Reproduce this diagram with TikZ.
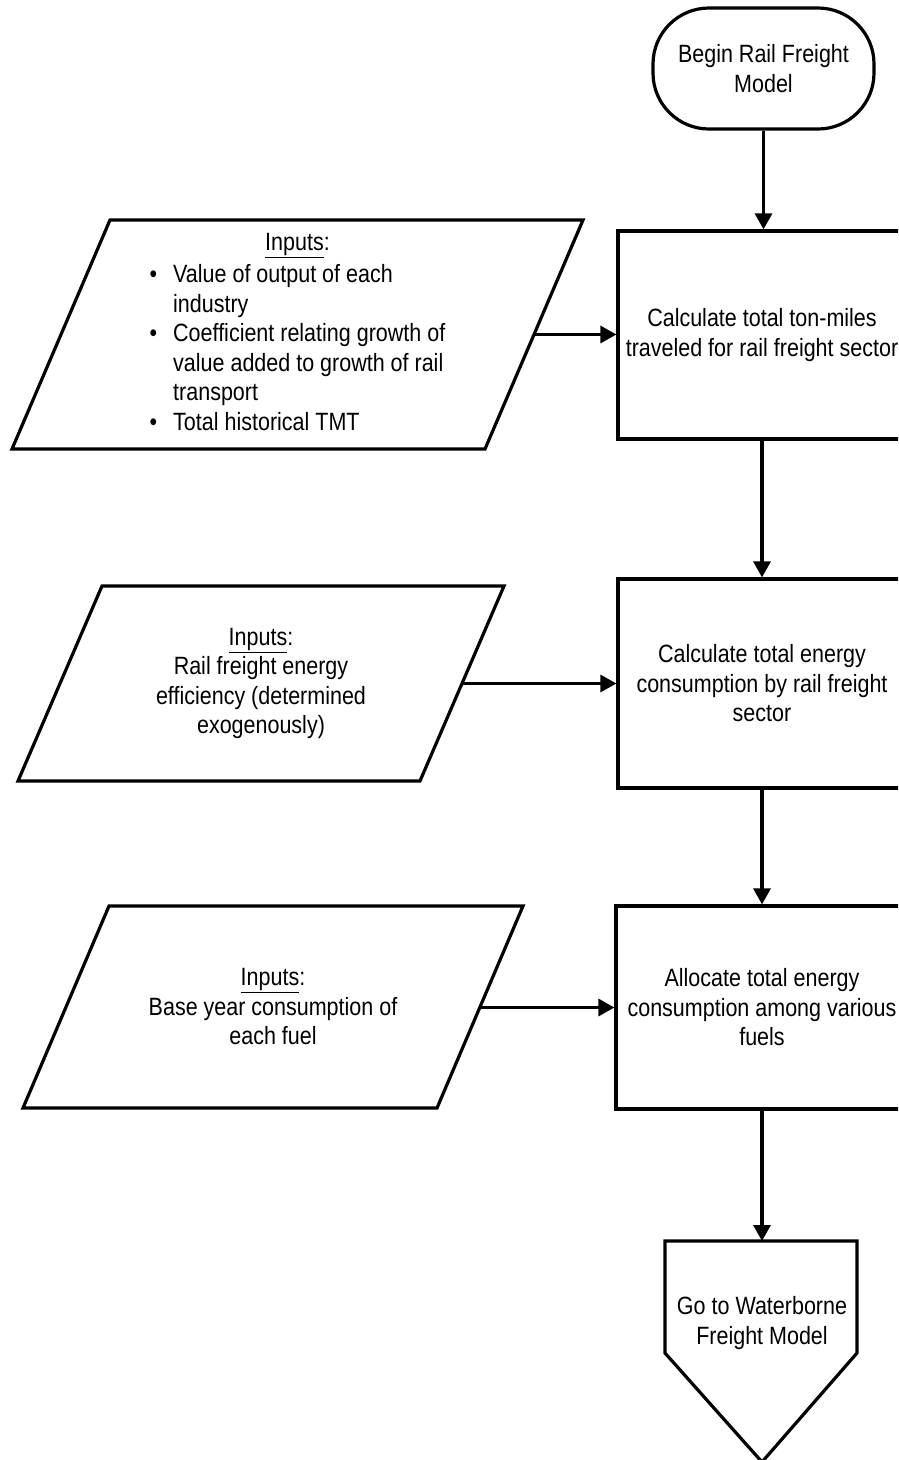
\documentclass[tikz,border=0pt]{standalone}
\usepackage{fontspec}
\setmainfont{Liberation Sans}[FakeStretch=0.86]
\usetikzlibrary{shapes.geometric,arrows.meta}
\begin{document}
\begin{tikzpicture}[x=1pt,y=-1pt,
  txt/.style={font=\fontsize{25}{29.5}\selectfont, align=center},
  lw/.style={line width=3.2pt},
  proc/.style={draw, lw, rectangle, inner sep=0pt, txt},
  iotext/.style={inner sep=0pt, txt},
  term/.style={draw, lw, rectangle, rounded corners=56pt, minimum width=221pt, minimum height=121pt, inner sep=0pt, txt},
  conn/.style={lw, -{Triangle[length=16pt,width=17pt]}}
]
\useasboundingbox (0,0) rectangle (898,1460);
\clip (0,0) rectangle (898,1460);
\fill[white] (0,0) rectangle (898,1460);

% start terminator
\node[term] (start) at (763.5,68.5) {Begin Rail Freight\\Model};

% process boxes
\node[proc, minimum width=288pt, minimum height=208pt] (b1) at (762,335) {Calculate total ton-miles\\traveled for rail freight sector};
\node[proc, minimum width=288pt, minimum height=209pt] (b2) at (762,683.5) {Calculate total energy\\consumption by rail freight\\sector};
\node[proc, minimum width=292pt, minimum height=203pt] (b3) at (762,1007.5) {Allocate total energy\\consumption among various\\fuels};

% input parallelograms
\draw[lw, line join=miter] (110,220) -- (583,220) -- (485,449) -- (12,449) -- cycle;
\coordinate (p1r) at (534,334.5);
\node[iotext] (p1) at (297.5,334.5) {%
  \begin{tabular}{@{}l@{\hspace{16pt}}l@{}}
  \multicolumn{2}{c}{\underline{Inputs}:}\\[3pt]
  \textbullet & Value of output of each\\
              & industry\\
  \textbullet & Coefficient relating growth of\\
              & value added to growth of rail\\
              & transport\\
  \textbullet & Total historical TMT
  \end{tabular}};

\draw[lw, line join=miter] (102,586) -- (504,586) -- (420,781) -- (18,781) -- cycle;
\coordinate (p2r) at (462,683.5);
\node[iotext] (p2) at (261,683.5) {\underline{Inputs}:\\Rail freight energy\\efficiency (determined\\exogenously)};

\draw[lw, line join=miter] (109,906) -- (523,906) -- (437,1108) -- (23,1108) -- cycle;
\coordinate (p3r) at (480,1007.5);
\node[iotext] (p3) at (273,1007) {\underline{Inputs}:\\Base year consumption of\\each fuel};

% off-page connector
\node[txt, inner sep=0pt] (off) at (762,1323) {Go to Waterborne\\Freight Model};
\coordinate (offtop) at (762,1241);
\draw[lw, line join=miter] (665,1241) -- (857,1241) -- (857,1353) -- (762,1462) -- (665,1353) -- cycle;

% connectors
\draw[conn] (start.south) -- (start.south |- b1.north);
\draw[conn] (p1r) -- (b1.west |- p1r);
\draw[conn] (b1.south) -- (b2.north);
\draw[conn] (p2r) -- (b2.west |- p2r);
\draw[conn] (b2.south) -- (b3.north);
\draw[conn] (p3r) -- (b3.west |- p3r);
\draw[conn] (b3.south) -- (offtop);
\end{tikzpicture}
\end{document}
